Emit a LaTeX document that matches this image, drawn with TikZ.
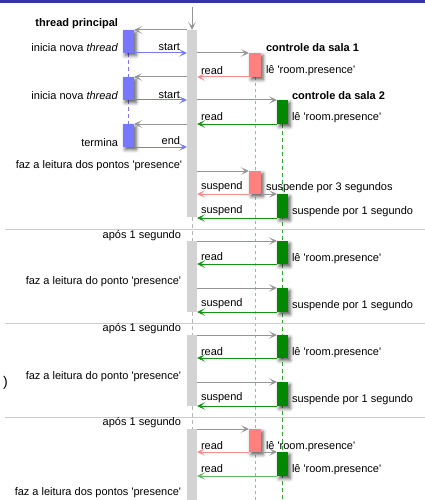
\documentclass[tikz,border=0pt]{standalone}
\usepackage{fontspec}
\setmainfont{Liberation Sans}[Ligatures=TeXOff]
\usetikzlibrary{arrows.meta,shadows.blur}
\definecolor{topblue}{RGB}{53,53,170}
\definecolor{barg}{RGB}{211,211,211}
\definecolor{arrg}{RGB}{150,150,150}
\definecolor{sepg}{RGB}{204,204,204}
\definecolor{bluec}{RGB}{120,120,255}
\definecolor{redc}{RGB}{255,128,128}
\definecolor{pinkc}{RGB}{255,140,140}
\definecolor{greenc}{RGB}{0,136,0}
\definecolor{greena}{RGB}{20,150,20}
\definecolor{greenl}{RGB}{100,185,100}
\definecolor{greend}{RGB}{50,170,50}
\pgfdeclarelayer{bg}
\pgfsetlayers{bg,main}
\tikzset{
  lifebar/.style={fill=barg, draw=none, inner sep=0pt, outer sep=0pt, minimum width=10pt, anchor=north west},
  actbox/.style={inner sep=0pt, outer sep=0pt, anchor=north west,
    blur shadow={shadow xshift=2pt, shadow yshift=-2.5pt, shadow blur radius=3.5pt, shadow opacity=65}},
  bluebox/.style={actbox, fill=bluec, minimum width=11pt, minimum height=23pt},
  redbox/.style={actbox, fill=redc, minimum width=12pt},
  greenbox/.style={actbox, fill=greenc, minimum width=11pt},
  tip/.style={-{Stealth[length=8pt,width=7.5pt,inset=4pt]}},
  garrow/.style={tip, draw=arrg, line width=1pt},
  barrow/.style={tip, draw=bluec, line width=1pt},
  parrow/.style={tip, draw=pinkc, line width=1pt},
  grarrow/.style={tip, draw=greena, line width=1pt},
  glarrow/.style={tip, draw=greenl, line width=1pt},
  sepline/.style={draw=sepg, line width=0.8pt},
  lbl/.style={inner sep=0pt, outer sep=0pt},
  lblL/.style={lbl, anchor=east},
  lblR/.style={lbl, anchor=west},
  ttl/.style={lbl, anchor=west, font=\fontsize{11}{13}\selectfont\bfseries},
  reddash/.style={draw=pinkc, line width=0.6pt, dash pattern=on 3pt off 3pt},
  greendash/.style={draw=greend, line width=0.8pt, dash pattern=on 4pt off 3pt},
  bluedash/.style={draw=bluec, line width=0.8pt, dash pattern=on 4pt off 3pt},
  graydash/.style={draw=arrg!70, line width=0.9pt, dash pattern=on 4pt off 3pt},
}
\begin{document}
\begin{tikzpicture}[x=1pt,y=-1pt,font=\fontsize{11}{13}\selectfont]
\useasboundingbox (0,0) rectangle (425,500);
\fill[topblue] (0,0) rectangle (425,3.5);

% separators
\draw[sepline] (5,229) -- (425,229);
\draw[sepline] (5,323) -- (425,323);
\draw[sepline] (5,417) -- (425,417);

% central lifeline bars
\node[lifebar, minimum height=187pt] (bar1) at (187,30) {};
\node[lifebar, minimum height=71pt] (bar2) at (187,241) {};
\node[lifebar, minimum height=71pt] (bar3) at (187,335) {};
\node[lifebar, minimum height=71pt] (bar4) at (187,429) {};

% main thread boxes
\node[bluebox] (b1) at (123,30) {};
\node[bluebox] (b2) at (123,77) {};
\node[bluebox] (b3) at (123,124) {};

% room 1 boxes
\node[redbox, minimum height=24pt] (r1) at (249,53) {};
\node[redbox, minimum height=23pt] (r2) at (249,171) {};
\node[redbox, minimum height=23pt] (r3) at (249,429) {};

% room 2 boxes
\node[greenbox, minimum height=24pt] (g1) at (277,100) {};
\node[greenbox, minimum height=24pt] (g2) at (277,194) {};
\node[greenbox, minimum height=23pt] (g3) at (277,241) {};
\node[greenbox, minimum height=24pt] (g4) at (277,288) {};
\node[greenbox, minimum height=23pt] (g5) at (277,335) {};
\node[greenbox, minimum height=24pt] (g6) at (277,382) {};
\node[greenbox, minimum height=24pt] (g7) at (277,452) {};

\coordinate (topin) at (192,7);
\coordinate (redend) at (255,500);
\coordinate (greenend) at (282.5,500);

\begin{pgfonlayer}{bg}
  \draw[reddash] (r1.south) -- (redend);
  \draw[greendash] (g1.south) -- (greenend);
  \draw[bluedash] (b1.south) -- (b2.north);
  \draw[bluedash] (b2.south) -- (b3.north);
  \draw[graydash] (bar1.south) -- (bar2.north);
  \draw[graydash] (bar2.south) -- (bar3.north);
  \draw[graydash] (bar3.south) -- (bar4.north);
\end{pgfonlayer}

% incoming arrow
\draw[garrow] (topin) -- (bar1.north);

% main thread arrows
\foreach \b in {b1,b2,b3}{
  \draw[garrow] (\b.north east -| bar1.west) -- (\b.north east);
  \draw[barrow] (\b.south east) -- (\b.south east -| bar1.west);
}

% room arrows
\draw[garrow] (r1.north west -| bar1.east) -- (r1.north west);
\draw[parrow] (r1.south west) -- (r1.south west -| bar1.east);
\draw[garrow] (g1.north west -| bar1.east) -- (g1.north west);
\draw[grarrow] (g1.south west) -- (g1.south west -| bar1.east);

\draw[garrow] (r2.north west -| bar1.east) -- (r2.north west);
\draw[parrow] (r2.south west) -- (r2.south west -| bar1.east);
\draw[garrow] (r2.south east) -- (g2.north west);
\draw[grarrow] (g2.south west) -- (g2.south west -| bar1.east);

\draw[garrow] (g3.north west -| bar2.east) -- (g3.north west);
\draw[grarrow] (g3.south west) -- (g3.south west -| bar2.east);
\draw[garrow] (g4.north west -| bar2.east) -- (g4.north west);
\draw[grarrow] (g4.south west) -- (g4.south west -| bar2.east);

\draw[garrow] (g5.north west -| bar3.east) -- (g5.north west);
\draw[grarrow] (g5.south west) -- (g5.south west -| bar3.east);
\draw[garrow] (g6.north west -| bar3.east) -- (g6.north west);
\draw[grarrow] (g6.south west) -- (g6.south west -| bar3.east);

\draw[garrow] (r3.north west -| bar4.east) -- (r3.north west);
\draw[parrow] (r3.south west) -- (r3.south west -| bar4.east);
\draw[garrow] (r3.south east) -- (g7.north west);
\draw[glarrow] (g7.south west) -- (g7.south west -| bar4.east);

% left labels
\node[lbl, anchor=east, font=\fontsize{11}{13}\selectfont\bfseries] (tp) at (118,24) {thread principal};
\node[lblL] (in1) at (118,48) {inicia nova \textit{thread}};
\node[lblL] (in2) at (118,96) {inicia nova \textit{thread}};
\node[lblL] (term) at (118,143) {termina};
\node[lblL] (st1) at (180,47) {start};
\node[lblL] (st2) at (180,95) {start};
\node[lblL] (en) at (180,141) {end};
\node[lblL] (faz1) at (182,166) {faz a leitura dos pontos 'presence'};
\node[lblL] (ap1) at (181,236) {após 1 segundo};
\node[lblL] (faz2) at (181,282) {faz a leitura do ponto 'presence'};
\node[lblL] (ap2) at (181,329) {após 1 segundo};
\node[lblL] (faz3) at (181,377) {faz a leitura do ponto 'presence'};
\node[lblL] (ap3) at (181,423) {após 1 segundo};
\node[lblL] (faz4) at (181,493) {faz a leitura dos pontos 'presence'};
\node[lblR, font=\fontsize{14}{16}\selectfont] (paren) at (3,383) {)};

% right labels
\node[ttl] (c1) at (266,48) {controle da sala 1};
\node[lblR] (le1) at (266,71) {lê 'room.presence'};
\node[ttl] (c2) at (292,96) {controle da sala 2};
\node[lblR] (le2) at (292,118) {lê 'room.presence'};
\node[lblR] (su3) at (266,188) {suspende por 3 segundos};
\node[lblR] (su1a) at (292,212) {suspende por 1 segundo};
\node[lblR] (le3) at (292,259) {lê 'room.presence'};
\node[lblR] (su1b) at (292,306) {suspende por 1 segundo};
\node[lblR] (le4) at (292,353) {lê 'room.presence'};
\node[lblR] (su1c) at (292,400) {suspende por 1 segundo};
\node[lblR] (le5) at (266,447) {lê 'room.presence'};
\node[lblR] (le6) at (292,470) {lê 'room.presence'};

% arrow labels
\node[lblR] (rd1) at (201,71) {read};
\node[lblR] (rd2) at (201,117) {read};
\node[lblR] (sp1) at (201,187) {suspend};
\node[lblR] (sp2) at (201,211) {suspend};
\node[lblR] (rd3) at (201,257) {read};
\node[lblR] (sp3) at (201,304) {suspend};
\node[lblR] (rd4) at (201,352) {read};
\node[lblR] (sp4) at (201,398) {suspend};
\node[lblR] (rd5) at (201,446) {read};
\node[lblR] (rd6) at (201,469) {read};
\end{tikzpicture}
\end{document}
